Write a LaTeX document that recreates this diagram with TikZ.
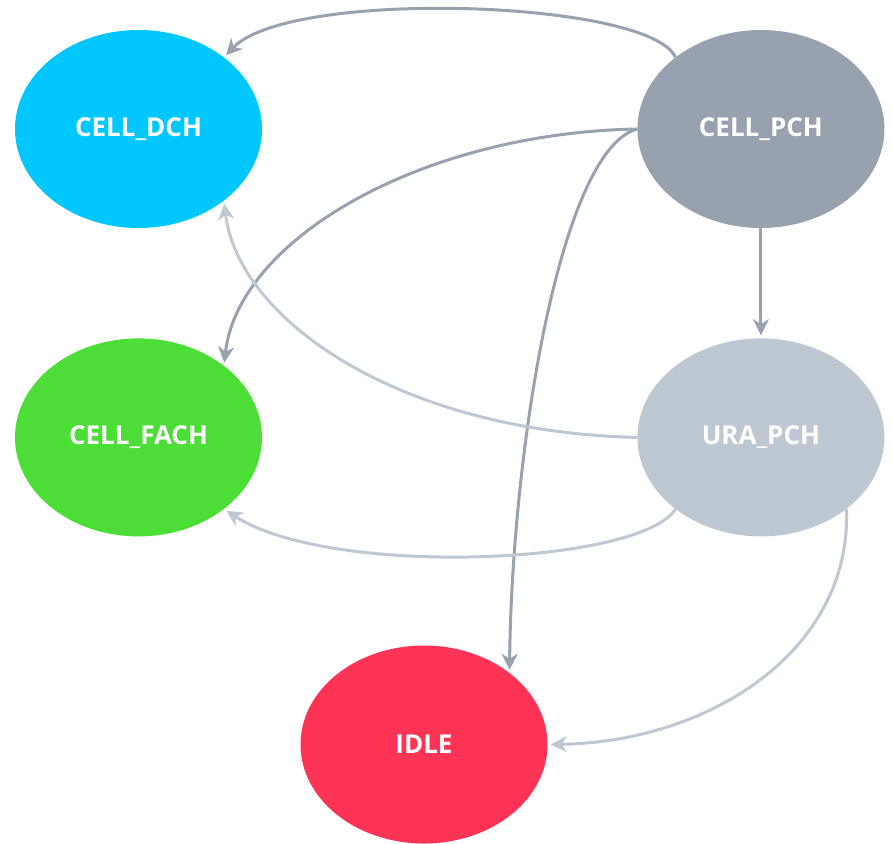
\documentclass[tikz,border=0pt]{standalone}
\usepackage{fontspec}
\setmainfont{Open Sans}
\usetikzlibrary{shapes.geometric,positioning,arrows.meta}
\definecolor{dchblue}{HTML}{00C8FF}
\definecolor{pchgray}{HTML}{98A2AF}
\definecolor{fachgreen}{HTML}{4CDD37}
\definecolor{uragray}{HTML}{BEC8D2}
\definecolor{idlered}{HTML}{FF3355}
\tikzset{
rrcstate/.style={ellipse, draw=none, minimum width=247pt, minimum height=198pt, inner sep=0pt,
  text=white, font=\fontsize{26}{30}\selectfont\bfseries},
rrcedge/.style={-{Stealth[length=16pt,width=16pt,inset=5pt]}, shorten >=3pt, line width=3pt},
darkedge/.style={rrcedge, draw=pchgray},
lightedge/.style={rrcedge, draw=uragray},
}

\begin{document}
\begin{tikzpicture}[x=1pt,y=-1pt]
        \useasboundingbox (0,0) rectangle (893,843);
        \node[rrcstate,fill=dchblue] (dch) at (138.5,129) {CELL\_DCH};
        \node[rrcstate,fill=pchgray,right=375pt of dch] (pch) {CELL\_PCH};
        \node[rrcstate,fill=fachgreen,below=110pt of dch] (fach) {CELL\_FACH};
        \node[rrcstate,fill=uragray,below=110pt of pch] (ura) {URA\_PCH};
        \node[rrcstate,fill=idlered] (idle) at (424,744.5) {IDLE};

        % from CELL_PCH
        \draw[darkedge] (pch.140) .. controls (650,0) and (290,-12) .. (dch.40);
        \draw[darkedge] (pch.west) .. controls (420,133) and (238,240) .. (fach.40);
        \draw[darkedge] (pch.west) .. controls (560,150) and (512,450) .. (idle.40);
        \draw[darkedge] (pch.south) -- (ura.north);

        % from URA_PCH
        \draw[lightedge] (ura.west) .. controls (400,432) and (238,320) .. (dch.-40);
        \draw[lightedge] (ura.-140) .. controls (640,565) and (330,578) .. (fach.-40);
        \draw[lightedge] (ura.-40) .. controls (852,650) and (710,742) .. (idle.east);
    \end{tikzpicture}
\end{document}
